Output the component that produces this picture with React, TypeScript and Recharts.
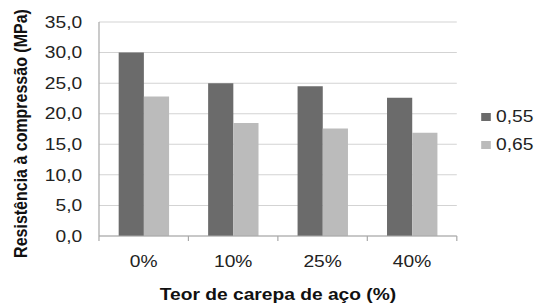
import React from 'react';
import { BarChart, Bar, XAxis, YAxis, CartesianGrid, Legend } from 'recharts';

const categories = ['0%', '10%', '25%', '40%'];
const serie055 = [30.0, 25.0, 24.5, 22.6];
const serie065 = [22.8, 18.5, 17.6, 16.9];
const seriesNames = ['0,55', '0,65'];
const yTicks = [0, 5, 10, 15, 20, 25, 30, 35];

const chartData = categories.map((teor, i) => ({
  teor,
  a: serie055[i],
  b: serie065[i],
}));

// the original picture is stretched sideways, so we draw narrower and scale X
const STRETCH = 1.2;
const W = 536 / STRETCH;
const H = 303;
const PLOT_LEFT = 82.5;
const PLOT_RIGHT = 380.8;
const BAND = (PLOT_RIGHT - PLOT_LEFT) / categories.length;
const FONT = '"Liberation Sans", Arial, sans-serif';

const cores = { escuro: '#6b6b6b', claro: '#bbbbbb' };

const XTick = (props: any) => {
  const { x, y, payload, index } = props;
  const last = index === categories.length - 1;
  return (
    <g>
      <line x1={x - BAND / 2} x2={x - BAND / 2} y1={y} y2={y + 5} stroke="#a8a8a8" />
      {last && <line x1={x + BAND / 2} x2={x + BAND / 2} y1={y} y2={y + 5} stroke="#a8a8a8" />}
      <text x={x} y={y + 26} textAnchor="middle" dominantBaseline="central" fontSize={16} fill="#222" fontFamily={FONT}>
        {payload.value}
      </text>
    </g>
  );
};

const LegendBox = () => (
  <div style={{ fontFamily: FONT, fontSize: 16, color: '#222' }}>
    {seriesNames.map((n, i) => (
      <div key={n} style={{ display: 'flex', alignItems: 'center', height: 28 }}>
        <span
          style={{
            display: 'inline-block',
            width: 7.5,
            height: 8.5,
            background: i === 0 ? cores.escuro : cores.claro,
            marginRight: 4.5,
          }}
        />
        <span>{n}</span>
      </div>
    ))}
  </div>
);

export default function App() {
  return (
    <div style={{ position: 'absolute', left: 0, top: 0, transform: `scaleX(${STRETCH})`, transformOrigin: '0 0' }}>
      <BarChart
        width={W}
        height={H}
        data={chartData}
        margin={{ top: 22, right: 6, bottom: 37, left: 0 }}
        barCategoryGap="22%"
        barGap={0}
        style={{ fontFamily: FONT }}
      >
        <CartesianGrid vertical={false} stroke="#d3d3d3" />
        <XAxis
          dataKey="teor"
          height={30}
          stroke="#a8a8a8"
          tickLine={false}
          tickSize={0}
          tickMargin={0}
          tick={<XTick />}
          label={{
            content: () => (
              <text
                x={(PLOT_LEFT + PLOT_RIGHT) / 2}
                y={295}
                textAnchor="middle"
                dominantBaseline="central"
                fontSize={16}
                fontWeight="bold"
                fill="#111"
                fontFamily={FONT}
              >
                Teor de carepa de aço (%)
              </text>
            ),
          }}
        />
        <YAxis
          width={PLOT_LEFT}
          domain={[0, 35]}
          ticks={yTicks}
          interval={0}
          stroke="#a8a8a8"
          tickLine={false}
          tickSize={0}
          tickMargin={14}
          tick={{ fontSize: 16, fill: '#222', fontFamily: FONT }}
          tickFormatter={(v: number) => v.toFixed(1).replace('.', ',')}
          label={{
            content: () => (
              <text
                transform="translate(16.7,133.5) rotate(-90)"
                textAnchor="middle"
                dominantBaseline="central"
                fontSize={16}
                fontWeight="bold"
                fill="#111"
                fontFamily={FONT}
              >
                Resistência à compressão (MPa)
              </text>
            ),
          }}
        />
        <Legend
          layout="vertical"
          align="right"
          verticalAlign="middle"
          content={<LegendBox />}
          wrapperStyle={{ left: 401.4, top: 103, width: 50, right: 'auto' }}
        />
        <Bar dataKey="a" name={seriesNames[0]} fill={cores.escuro} isAnimationActive={false} />
        <Bar dataKey="b" name={seriesNames[1]} fill={cores.claro} isAnimationActive={false} />
      </BarChart>
    </div>
  );
}
